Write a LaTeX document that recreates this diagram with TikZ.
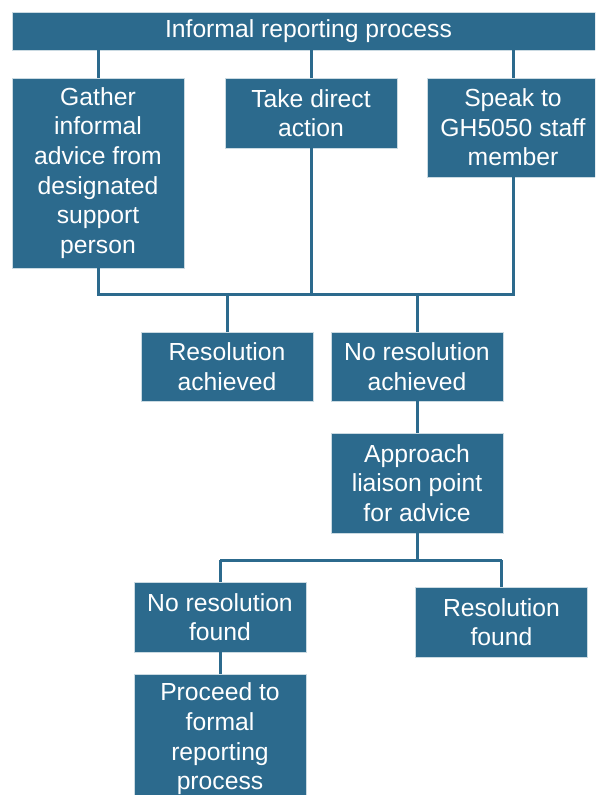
\documentclass[tikz,border=0pt]{standalone}
\usepackage{fontspec}
\setmainfont{Liberation Sans}
\definecolor{boxblue}{RGB}{44,106,141}
\newcommand{\boxfont}{\fontsize{24.7}{29.6}\selectfont}
\tikzset{
  stepbox/.style={fill=boxblue, draw=white!75!boxblue, line width=0.8pt,
    text=white, align=center, inner sep=0pt, minimum width=172pt, font=\boxfont},
  link/.style={draw=boxblue, line width=3pt}
}
\begin{document}
\begin{tikzpicture}[x=1pt,y=-1pt]

\useasboundingbox (0,0) rectangle (595,795);
\clip (0,0) rectangle (595,795);

\node[stepbox, minimum width=593pt, minimum height=38pt] (top) at (308.5,31) {Informal reporting process};

\node[stepbox, minimum height=190pt] (gather) at (98,173) {Gather\\informal\\advice from\\designated\\support\\person};
\node[stepbox, minimum height=70pt] (take) at (311,113) {Take direct\\action};
\node[stepbox, minimum height=99pt] (speak) at (513,127.5) {Speak to\\GH5050 staff\\member};

\node[stepbox, minimum height=69pt] (resach) at (227,366.5) {Resolution\\achieved};
\node[stepbox, minimum height=69pt] (noresach) at (417,366.5) {No resolution\\achieved};

\node[stepbox, minimum height=100pt] (approach) at (417,483) {Approach\\liaison point\\for advice};

\node[stepbox, minimum height=70pt] (nofound) at (220,617) {No resolution\\found};
\node[stepbox, minimum height=70pt] (found) at (501.5,622) {Resolution\\found};

\node[stepbox, minimum height=130pt] (proceed) at (220,739) {Proceed to\\formal\\reporting\\process};

\coordinate (merge) at (0,294);
\coordinate (split) at (0,560);

% top to the three options
\draw[link] (top.south -| gather.north) -- (gather.north);
\draw[link] (top.south -| take.north) -- (take.north);
\draw[link] (top.south -| speak.north) -- (speak.north);

% options join up again
\draw[link] (gather.south) -- (gather.south |- merge) -- (speak.south |- merge) -- (speak.south);
\draw[link] (take.south) -- (take.south |- merge);
\draw[link] (resach.north |- merge) -- (resach.north);
\draw[link] (noresach.north |- merge) -- (noresach.north);

\draw[link] (noresach.south) -- (approach.north);

\draw[link] (approach.south) -- (approach.south |- split);
\draw[link] (nofound.north |- split) -- (found.north |- split);
\draw[link] (nofound.north |- split) -- (nofound.north);
\draw[link] (found.north |- split) -- (found.north);

\draw[link] (nofound.south) -- (proceed.north);

\end{tikzpicture}
\end{document}
